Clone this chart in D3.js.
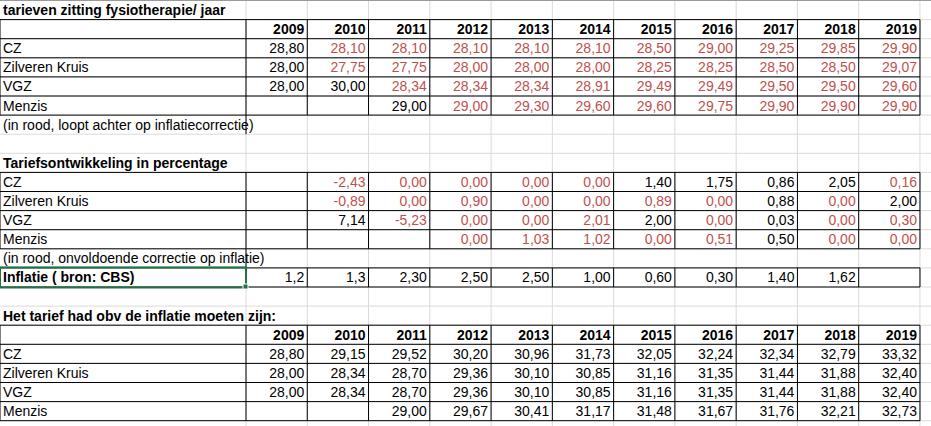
<!DOCTYPE html>
<html><head><meta charset="utf-8">
<script src="https://cdn.jsdelivr.net/npm/d3@7"></script>
<style>body{margin:0;background:#fff}svg{display:block}text{font-family:"Liberation Sans Narrow","Liberation Sans",sans-serif;font-size:14px;fill:#000}</style>
</head><body><svg id="c" width="931" height="426"></svg>
<script>
const years = ["2009","2010","2011","2012","2013","2014","2015","2016","2017","2018","2019"];
const insurers = ["CZ","Zilveren Kruis","VGZ","Menzis"];
const tarieven = [
 ["28,80","28,10","28,10","28,10","28,10","28,10","28,50","29,00","29,25","29,85","29,90"],
 ["28,00","27,75","27,75","28,00","28,00","28,00","28,25","28,25","28,50","28,50","29,07"],
 ["28,00","30,00","28,34","28,34","28,34","28,91","29,49","29,49","29,50","29,50","29,60"],
 ["","","29,00","29,00","29,30","29,60","29,60","29,75","29,90","29,90","29,90"]];
const tarievenRed = [
 [0,1,1,1,1,1,1,1,1,1,1],[0,1,1,1,1,1,1,1,1,1,1],[0,0,1,1,1,1,1,1,1,1,1],[0,0,0,1,1,1,1,1,1,1,1]];
const procent = [
 ["","-2,43","0,00","0,00","0,00","0,00","1,40","1,75","0,86","2,05","0,16"],
 ["","-0,89","0,00","0,90","0,00","0,00","0,89","0,00","0,88","0,00","2,00"],
 ["","7,14","-5,23","0,00","0,00","2,01","2,00","0,00","0,03","0,00","0,30"],
 ["","","","0,00","1,03","1,02","0,00","0,51","0,50","0,00","0,00"]];
const procentRed = [
 [0,1,1,1,1,1,0,0,0,0,1],[0,1,1,1,1,1,1,1,0,1,0],[0,0,1,1,1,1,0,1,0,1,1],[0,0,0,1,1,1,1,1,0,1,1]];
const inflatie = ["1,2","1,3","2,30","2,50","2,50","1,00","0,60","0,30","1,40","1,62",""];
const moeten = [
 ["28,80","29,15","29,52","30,20","30,96","31,73","32,05","32,24","32,34","32,79","33,32"],
 ["28,00","28,34","28,70","29,36","30,10","30,85","31,16","31,35","31,44","31,88","32,40"],
 ["28,00","28,34","28,70","29,36","30,10","30,85","31,16","31,35","31,44","31,88","32,40"],
 ["","","29,00","29,67","30,41","31,17","31,48","31,67","31,76","32,21","32,73"]];

const svg = d3.select("#c");
const RED = "#c0504d";
const colEdges = [0,246].concat(years.map((d,i)=>246+(i+1)*61.27));
colEdges.push(982);
const x = i => colEdges[i];
const rowH = 19.1;
const y = d3.scaleLinear().domain([0,1]).range([0.5,0.5+rowH]);
const g = svg.append("g");
for(let r=0;r<=23;r++) g.append("line").attr("x1",0).attr("x2",931).attr("y1",y(r)).attr("y2",y(r)).attr("stroke","#dadada");
for(let c=1;c<colEdges.length;c++) g.append("line").attr("x1",x(c)).attr("x2",x(c)).attr("y1",0).attr("y2",426).attr("stroke","#dadada");
svg.append("line").attr("x1",0).attr("x2",931).attr("y1",0.5).attr("y2",0.5).attr("stroke","#9a9a9a");

function border(r0,r1,c0,c1){
  for(let r=r0;r<=r1;r++) svg.append("line").attr("x1",x(c0)).attr("x2",x(c1)).attr("y1",y(r)).attr("y2",y(r)).attr("stroke","#000");
  for(let c=c0;c<=c1;c++) svg.append("line").attr("x1",x(c)).attr("x2",x(c)).attr("y1",y(r0)).attr("y2",y(r1)).attr("stroke","#000");
}
function vline(c,r0,r1){svg.append("line").attr("x1",x(c)).attr("x2",x(c)).attr("y1",y(r0)).attr("y2",y(r1)).attr("stroke","#000");}
function label(r,t,bold){svg.append("text").attr("x",3).attr("y",y(r)+14.5).attr("font-weight",bold?"bold":null).text(t);}
function cell(r,c,t,red,bold){svg.append("text").attr("x",x(c+2)-3).attr("y",y(r)+14.5).attr("text-anchor","end")
  .attr("font-weight",bold?"bold":null).style("fill",red?RED:"#000").text(t);}

border(1,6,0,12); vline(1,6,7);
label(0,"tarieven zitting fysiotherapie/ jaar",true);
years.forEach((yr,i)=>cell(1,i,yr,false,true));
insurers.forEach((n,k)=>{label(2+k,n);tarieven[k].forEach((v,i)=>cell(2+k,i,v,tarievenRed[k][i]));});
label(6,"(in rood, loopt achter op inflatiecorrectie)");
border(9,13,0,12); vline(1,13,14);
border(14,15,0,12);
label(8,"Tariefsontwikkeling in percentage",true);
insurers.forEach((n,k)=>{label(9+k,n);procent[k].forEach((v,i)=>cell(9+k,i,v,procentRed[k][i]));});
label(13,"(in rood, onvoldoende correctie op inflatie)");
label(14,"Inflatie ( bron: CBS)",true);
inflatie.forEach((v,i)=>cell(14,i,v,false));
svg.append("rect").attr("x",0).attr("y",y(14)-0.5).attr("width",x(1)).attr("height",rowH+1).attr("fill","none").attr("stroke","#217346").attr("stroke-width",2);
svg.append("rect").attr("x",x(1)-3).attr("y",y(15)-3).attr("width",5).attr("height",5).attr("fill","#217346").attr("stroke","#fff");
border(17,22,0,12);
label(16,"Het tarief had obv de inflatie moeten zijn:",true);
years.forEach((yr,i)=>cell(17,i,yr,false,true));
insurers.forEach((n,k)=>{label(18+k,n);moeten[k].forEach((v,i)=>cell(18+k,i,v,false));});
</script></body></html>
